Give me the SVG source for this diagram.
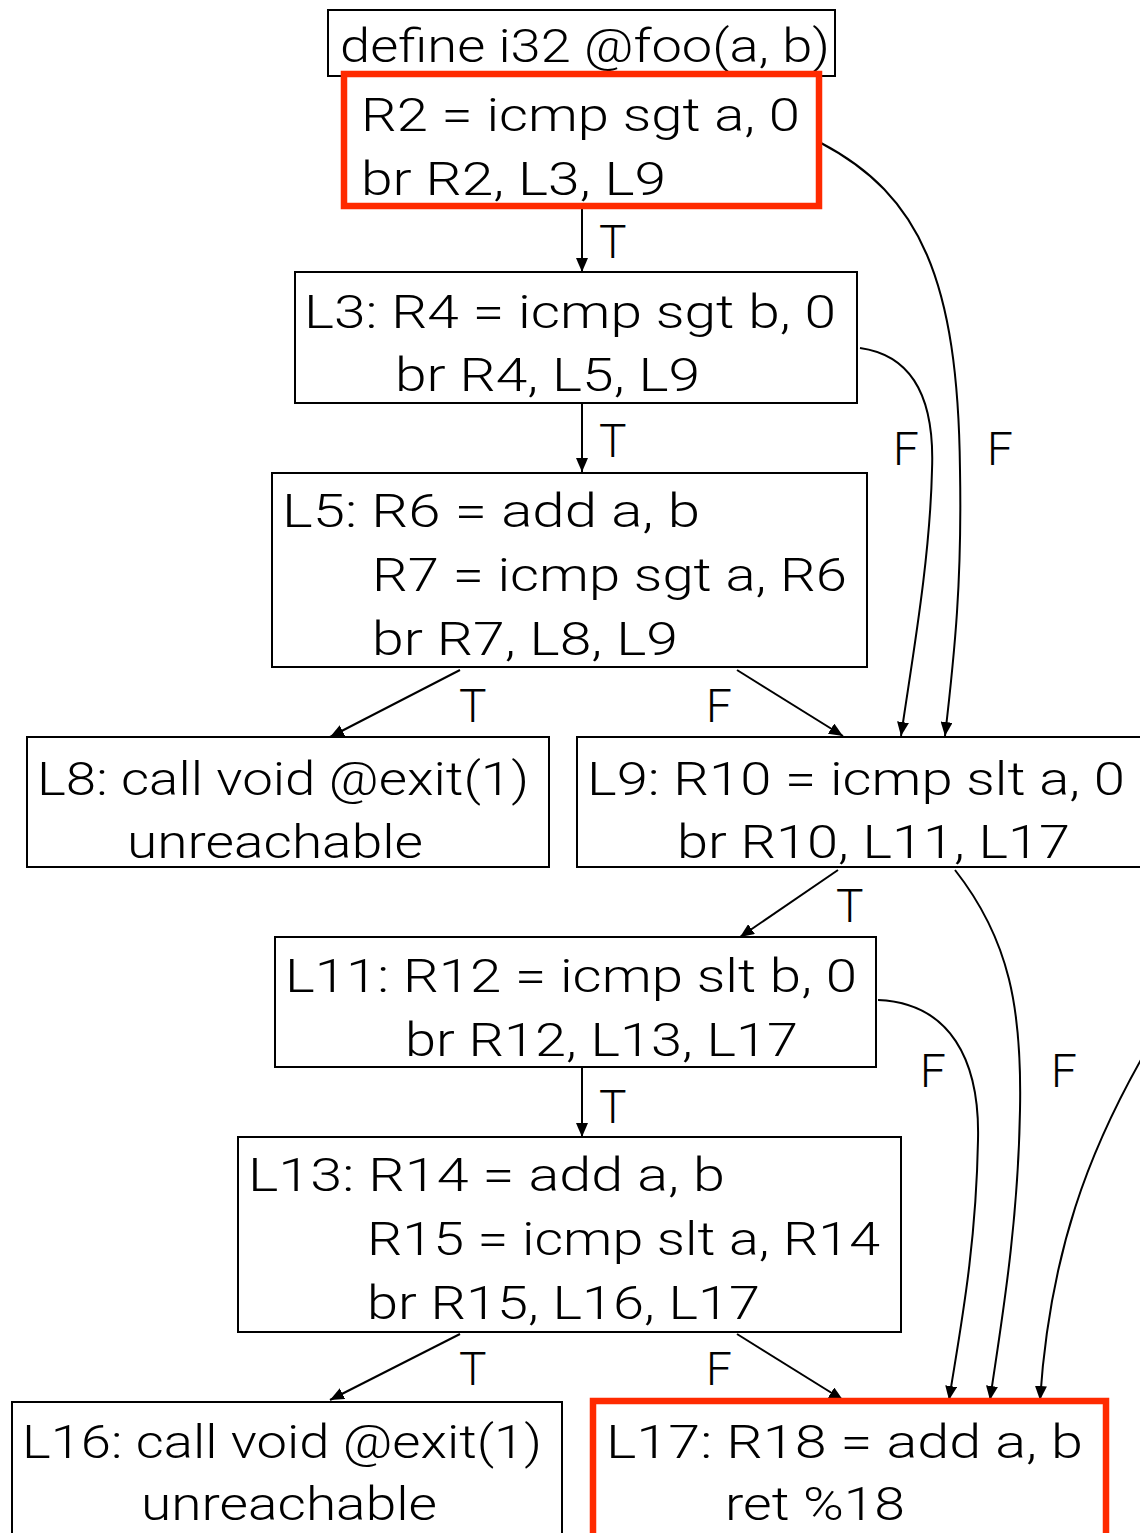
<svg xmlns="http://www.w3.org/2000/svg" width="1140" height="1533" viewBox="0 0 1140 1533">
<style>
text{font-family:Roboto,"Liberation Sans",Arial,sans-serif;font-weight:300;font-size:46px;fill:#000}
.box{fill:#fff;stroke:#000;stroke-width:2}
.hl{fill:#fff;stroke:#ff2a00;stroke-width:6.5}
.e{fill:none;stroke:#000;stroke-width:2;marker-end:url(#ah)}
</style>
<defs>
<marker id="ah" viewBox="0 0 14 12" refX="14" refY="6" markerWidth="14" markerHeight="12" markerUnits="userSpaceOnUse" orient="auto">
<path d="M0,0 L14,6 L0,12 Z" fill="#000"/>
</marker>
</defs>
<rect width="1140" height="1533" fill="#fff"/>
<g id="connectors">
<path class="e" d="M582,207 L582,272"/>
<path class="e" d="M582,403 L582,472"/>
<path class="e" d="M460,670 L330,737"/>
<path class="e" d="M737,670 L843,736"/>
<path class="e" d="M821,143 C920,195 958,280 960,470 C962,580 955,650 945,736"/>
<path class="e" d="M860,348 C910,355 935,395 932,470 C930,560 912,660 901,736"/>
<path class="e" d="M838,870 L740,937"/>
<path class="e" d="M582,1067 L582,1137"/>
<path class="e" d="M460,1334 L330,1400"/>
<path class="e" d="M737,1334 L843,1400"/>
<path class="e" d="M878,1000 C950,1003 980,1060 978,1140 C976,1250 960,1330 949,1400"/>
<path class="e" d="M955,870 C1010,940 1022,1010 1020,1110 C1018,1230 1000,1330 990,1400"/>
<path class="e" d="M1142,1058 C1090,1150 1050,1250 1040,1400"/>
</g>
<g id="labels">
<text x="599" y="258">T</text>
<text x="599" y="457">T</text>
<text x="459" y="722">T</text>
<text x="706" y="722">F</text>
<text x="893" y="465">F</text>
<text x="987" y="465">F</text>
<text x="836" y="922">T</text>
<text x="599" y="1123">T</text>
<text x="920" y="1087">F</text>
<text x="1051" y="1087">F</text>
<text x="459" y="1385">T</text>
<text x="706" y="1385">F</text>
</g>
<g id="n-define">
<rect class="box" x="328" y="10" width="507" height="66"/>
<text x="340" y="62" textLength="490" lengthAdjust="spacingAndGlyphs">define i32 @foo(a, b)</text>
</g>
<g id="n-entry">
<rect class="hl" x="344" y="74" width="475" height="132"/>
<text x="361" y="131" textLength="439" lengthAdjust="spacingAndGlyphs">R2 = icmp sgt a, 0</text>
<text x="361" y="195" textLength="305" lengthAdjust="spacingAndGlyphs">br R2, L3, L9</text>
</g>
<g id="n-L3">
<rect class="box" x="295" y="272" width="562" height="131"/>
<text x="304" y="328" textLength="532" lengthAdjust="spacingAndGlyphs">L3: R4 = icmp sgt b, 0</text>
<text x="395" y="391" textLength="305" lengthAdjust="spacingAndGlyphs">br R4, L5, L9</text>
</g>
<g id="n-L5">
<rect class="box" x="272" y="473" width="595" height="194"/>
<text x="282" y="527" textLength="418" lengthAdjust="spacingAndGlyphs">L5: R6 = add a, b</text>
<text x="372" y="591" textLength="475" lengthAdjust="spacingAndGlyphs">R7 = icmp sgt a, R6</text>
<text x="372" y="655" textLength="306" lengthAdjust="spacingAndGlyphs">br R7, L8, L9</text>
</g>
<g id="n-L8">
<rect class="box" x="27" y="737" width="522" height="130"/>
<text x="37" y="795" textLength="492" lengthAdjust="spacingAndGlyphs">L8: call void @exit(1)</text>
<text x="127" y="858" textLength="296" lengthAdjust="spacingAndGlyphs">unreachable</text>
</g>
<g id="n-L9">
<rect class="box" x="577" y="737" width="580" height="130"/>
<text x="587" y="795" textLength="538" lengthAdjust="spacingAndGlyphs">L9: R10 = icmp slt a, 0</text>
<text x="677" y="858" textLength="393" lengthAdjust="spacingAndGlyphs">br R10, L11, L17</text>
</g>
<g id="n-L11">
<rect class="box" x="275" y="937" width="601" height="130"/>
<text x="285" y="992" textLength="572" lengthAdjust="spacingAndGlyphs">L11: R12 = icmp slt b, 0</text>
<text x="405" y="1056" textLength="393" lengthAdjust="spacingAndGlyphs">br R12, L13, L17</text>
</g>
<g id="n-L13">
<rect class="box" x="238" y="1137" width="663" height="195"/>
<text x="248" y="1191" textLength="477" lengthAdjust="spacingAndGlyphs">L13: R14 = add a, b</text>
<text x="367" y="1255" textLength="513" lengthAdjust="spacingAndGlyphs">R15 = icmp slt a, R14</text>
<text x="367" y="1319" textLength="393" lengthAdjust="spacingAndGlyphs">br R15, L16, L17</text>
</g>
<g id="n-L16">
<rect class="box" x="12" y="1402" width="550" height="140"/>
<text x="22" y="1458" textLength="520" lengthAdjust="spacingAndGlyphs">L16: call void @exit(1)</text>
<text x="141" y="1520" textLength="296" lengthAdjust="spacingAndGlyphs">unreachable</text>
</g>
<g id="n-L17">
<rect class="hl" x="593" y="1401" width="513" height="140"/>
<text x="606" y="1458" textLength="477" lengthAdjust="spacingAndGlyphs">L17: R18 = add a, b</text>
<text x="725" y="1520" textLength="180" lengthAdjust="spacingAndGlyphs">ret %18</text>
</g>
</svg>
